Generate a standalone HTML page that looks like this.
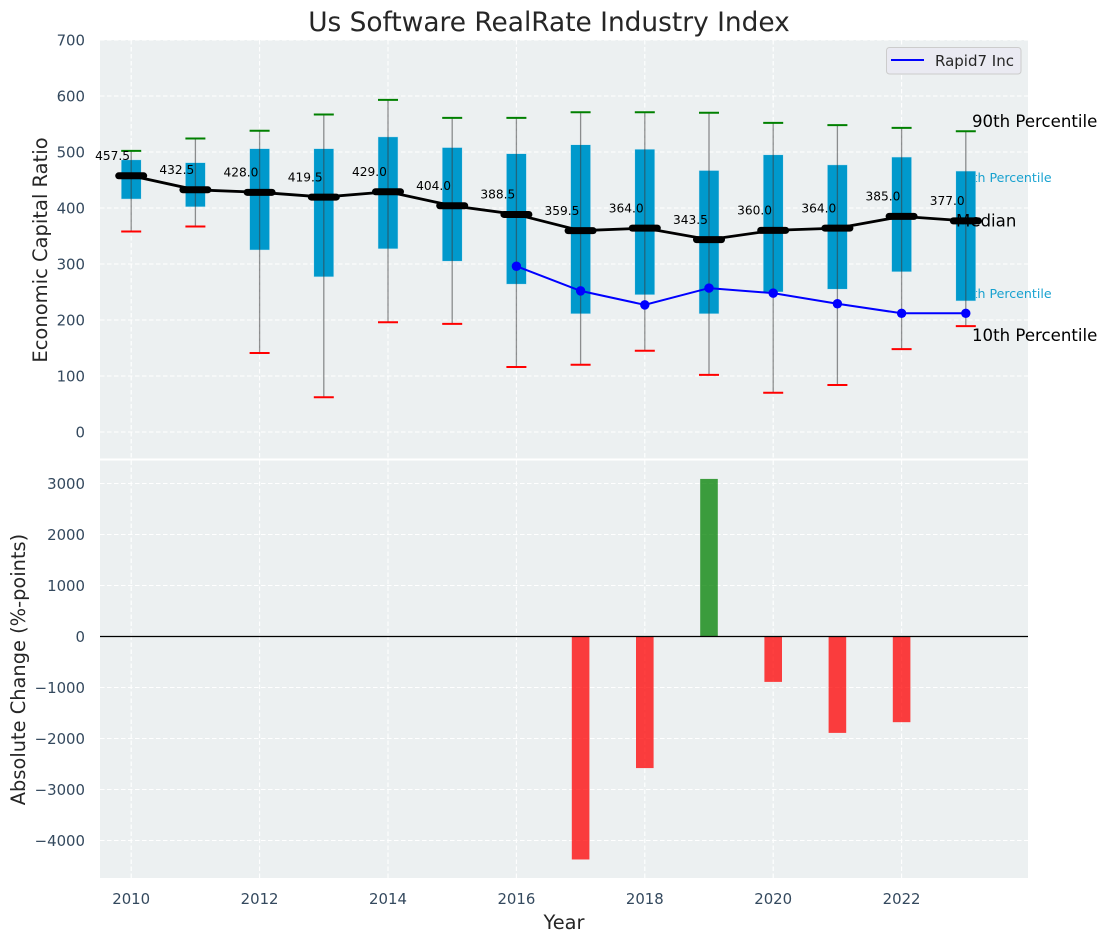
<!DOCTYPE html>
<html>
<head>
<meta charset="utf-8">
<title>Us Software RealRate Industry Index</title>
<style>
html,body{margin:0;padding:0;background:#fff;width:1107px;height:942px;overflow:hidden}
svg{display:block}
text{font-family:"DejaVu Sans","Liberation Sans",sans-serif}
</style>
</head>
<body>
<svg id="chart" xmlns="http://www.w3.org/2000/svg" width="1107" height="942" viewBox="0 0 1107 942"></svg>
<script>
const years = [2010,2011,2012,2013,2014,2015,2016,2017,2018,2019,2020,2021,2022,2023];
const p90 = [502,524,538,567,593,561,561,571,571,570,552,548,543,537];
const p75 = [486,481,506,506,527,508,497,513,505,467,495,477,491,466];
const median = [457.5,432.5,428,419.5,429,404,388.5,359.5,364,343.5,360,364,385,377];
const p25 = [416,402,325,277,327,305,264,211,245,211,250,255,286,234];
const p10 = [358,367,141,62,196,193,116,120,145,102,70,84,148,189];
const rapidYears = [2016,2017,2018,2019,2020,2021,2022,2023];
const rapidValues = [296,252,227,257,248,229,212,212];
const changeYears = [2017,2018,2019,2020,2021,2022];
const changeValues = [-4372,-2580,3090,-890,-1890,-1680];
const xTicks = [2010,2012,2014,2016,2018,2020,2022];
const topTicks = [0,100,200,300,400,500,600,700];
const bottomTicks = [-4000,-3000,-2000,-1000,0,1000,2000,3000];

const L = 100, R = 1028, T1 = 40, B1 = 458.5, T2 = 460.5, B2 = 878;
const NS = 'http://www.w3.org/2000/svg';
const svg = document.getElementById('chart');
const x = v => 131.2 + (v - 2010) * 64.2;
const y1 = v => 432 - v * 0.56;
const y2 = v => 636.5 - v * 0.051;

function mk(tag, attrs, text) {
  const el = document.createElementNS(NS, tag);
  for (const k in attrs) el.setAttribute(k, attrs[k]);
  if (text !== undefined) el.textContent = text;
  svg.appendChild(el);
  return el;
}
function fmt(v) { return String(v).replace('-', '\u2212'); }

let el;
el = mk('rect', {x: L, y: T1, width: R - L, height: B1 - T1, fill: '#ecf0f1'});


el = mk('rect', {x: L, y: T2, width: R - L, height: B2 - T2, fill: '#ecf0f1'});



const gridStyle = {stroke: '#ffffff', 'stroke-width': 1.1, 'stroke-dasharray': '4.5 2.5'};
xTicks.forEach(t => {
  el = mk('line', {x1: x(t), x2: x(t), y1: T1, y2: B1, ...gridStyle});
  
  
  el = mk('line', {x1: x(t), x2: x(t), y1: T2, y2: B2, ...gridStyle});
  
  
  el = mk('text', {x: x(t), y: 904, 'text-anchor': 'middle', 'font-size': 14.9, fill: '#34495e'}, t);
  
  
});
topTicks.forEach(t => {
  el = mk('line', {x1: L, x2: R, y1: y1(t), y2: y1(t), ...gridStyle});
  
  
  el = mk('text', {x: 85, y: y1(t) + 5.3, 'text-anchor': 'end', 'font-size': 14.9, fill: '#34495e'}, fmt(t));
  
  
});
bottomTicks.forEach(t => {
  el = mk('line', {x1: L, x2: R, y1: y2(t), y2: y2(t), ...gridStyle});
  
  
  el = mk('text', {x: 85, y: y2(t) + 5.3, 'text-anchor': 'end', 'font-size': 14.9, fill: '#34495e'}, fmt(t));
  
  
});

/* percentile labels that sit behind the last box */
const lastI = years.length - 1;
el = mk('text', {x: 956.5, y: y1(p75[lastI]) + 11, 'font-size': 12.6, fill: '#0099cc', opacity: 0.9}, '75th Percentile');


el = mk('text', {x: 956.5, y: y1(p25[lastI]) - 3, 'font-size': 12.6, fill: '#0099cc', opacity: 0.9}, '25th Percentile');



years.forEach((yr, i) => {
  const cx = x(yr);
  el = mk('rect', {x: cx - 10, y: y1(p75[i]), width: 20, height: y1(p25[i]) - y1(p75[i]), fill: '#0099cc', stroke: '#cfe8f2', 'stroke-width': 0.5});
  
  
  el = mk('line', {x1: cx, x2: cx, y1: y1(p90[i]), y2: y1(p10[i]), stroke: '#3a3a3a', 'stroke-opacity': 0.55, 'stroke-width': 1.3});
  
  
  el = mk('line', {x1: cx - 10, x2: cx + 10, y1: y1(p90[i]), y2: y1(p90[i]), stroke: '#008000', 'stroke-width': 2});
  
  
  el = mk('line', {x1: cx - 10, x2: cx + 10, y1: y1(p10[i]), y2: y1(p10[i]), stroke: '#ff0000', 'stroke-width': 2});
  
  
});

el = mk('text', {x: 956, y: 226.5, 'font-size': 16.6, fill: '#000'}, 'Median');



el = mk('polyline', {points: years.map((yr, i) => x(yr) + ',' + y1(median[i])).join(' '), fill: 'none', stroke: '#000', 'stroke-width': 2.8});



years.forEach((yr, i) => {
  const cx = x(yr), cy = y1(median[i]);
  el = mk('line', {x1: cx - 12.5, x2: cx + 12.5, y1: cy, y2: cy, stroke: '#000', 'stroke-width': 7, 'stroke-linecap': 'round'});
  
  
  el = mk('text', {x: cx - 18.6, y: cy - 15.8, 'text-anchor': 'middle', 'font-size': 12.2, fill: '#000'}, median[i].toFixed(1));
  
  
});

el = mk('polyline', {points: rapidYears.map((yr, i) => x(yr) + ',' + y1(rapidValues[i])).join(' '), fill: 'none', stroke: '#0000ff', 'stroke-width': 2});


rapidYears.forEach((yr, i) => {
  el = mk('circle', {cx: x(yr), cy: y1(rapidValues[i]), r: 4.7, fill: '#0000ff'});
  
  
});

el = mk('text', {x: 972, y: 127, 'font-size': 16.6, fill: '#000'}, '90th Percentile');


el = mk('text', {x: 972, y: 341, 'font-size': 16.6, fill: '#000'}, '10th Percentile');



changeYears.forEach((yr, i) => {
  const v = changeValues[i];
  const top = Math.min(y2(0), y2(v));
  el = mk('rect', {x: x(yr) - 8.8, y: top, width: 17.6, height: Math.abs(y2(v) - y2(0)), fill: v >= 0 ? '#008000' : '#ff0000', 'fill-opacity': 0.75});
  
  
});
el = mk('line', {x1: L, x2: R, y1: y2(0), y2: y2(0), stroke: '#000', 'stroke-width': 1.3});



el = mk('rect', {x: 886.5, y: 47.5, width: 134.5, height: 26.5, rx: 3, fill: '#eaeaf2', stroke: '#cccccc', 'stroke-width': 1});


el = mk('line', {x1: 891, x2: 924, y1: 60, y2: 60, stroke: '#0000ff', 'stroke-width': 2});


el = mk('text', {x: 935, y: 66, 'font-size': 15, fill: '#262626'}, 'Rapid7 Inc');



el = mk('text', {x: 549, y: 31, 'text-anchor': 'middle', 'font-size': 26.4, fill: '#262626'}, 'Us Software RealRate Industry Index');


el = mk('text', {x: 564, y: 929, 'text-anchor': 'middle', 'font-size': 19.4, fill: '#262626'}, 'Year');


el = mk('text', {transform: 'translate(47,250) rotate(-90)', 'text-anchor': 'middle', 'font-size': 19.5, fill: '#262626'}, 'Economic Capital Ratio');


el = mk('text', {transform: 'translate(25,669.5) rotate(-90)', 'text-anchor': 'middle', 'font-size': 19.4, fill: '#262626'}, 'Absolute Change (%-points)');


</script>
</body>
</html>
